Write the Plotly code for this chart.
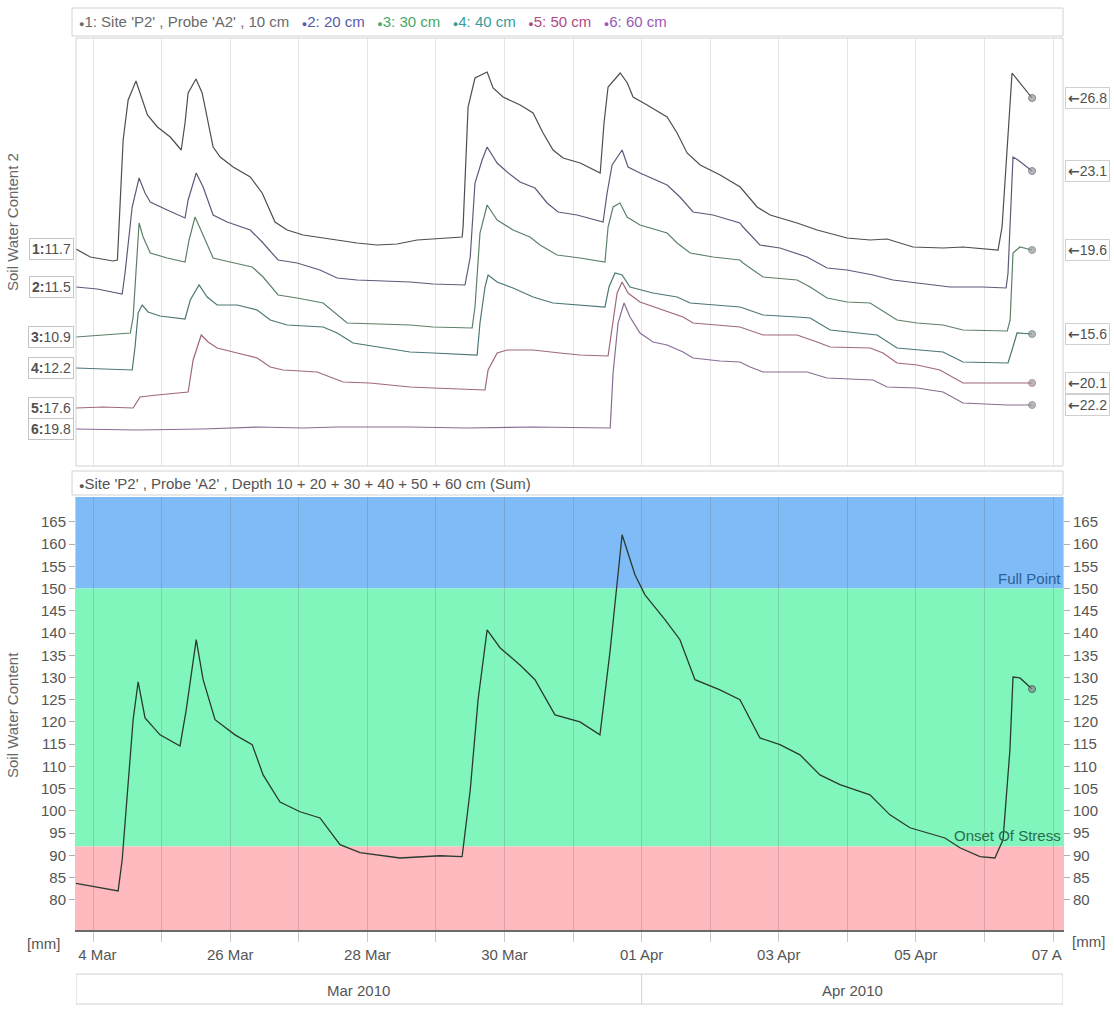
import plotly.graph_objects as go
import pandas as pd

# ---------------- data ----------------
SITE = "P2"
PROBE = "A2"
DEPTHS = [10, 20, 30, 40, 50, 60]
FULL_POINT = 150
ONSET_STRESS = 92

S1_T = ["2010-03-23 18:00", "2010-03-23 23:00", "2010-03-24 07:00", "2010-03-24 08:30", "2010-03-24 10:30",
        "2010-03-24 12:15", "2010-03-24 15:00", "2010-03-24 16:30", "2010-03-24 19:00", "2010-03-24 22:30",
        "2010-03-25 03:00", "2010-03-25 06:50", "2010-03-25 08:10", "2010-03-25 09:15", "2010-03-25 12:00",
        "2010-03-25 14:10", "2010-03-25 18:00", "2010-03-25 20:30", "2010-03-26 01:00", "2010-03-26 07:00",
        "2010-03-26 11:10", "2010-03-26 15:40", "2010-03-26 19:55", "2010-03-27 01:30", "2010-03-27 11:00",
        "2010-03-27 20:25", "2010-03-28 03:25", "2010-03-28 10:25", "2010-03-28 17:25", "2010-03-28 22:00",
        "2010-03-29 09:10", "2010-03-29 09:30", "2010-03-29 11:15", "2010-03-29 13:40", "2010-03-29 17:55",
        "2010-03-29 20:00", "2010-03-29 23:30", "2010-03-30 05:30", "2010-03-30 10:00", "2010-03-30 13:30",
        "2010-03-30 17:00", "2010-03-30 20:30", "2010-03-31 02:30", "2010-03-31 09:30", "2010-03-31 10:50",
        "2010-03-31 12:15", "2010-03-31 16:30", "2010-03-31 19:00", "2010-03-31 21:00", "2010-04-01 01:55",
        "2010-04-01 08:55", "2010-04-01 12:25", "2010-04-01 15:55", "2010-04-01 20:30", "2010-04-02 03:30",
        "2010-04-02 10:30", "2010-04-02 16:25", "2010-04-02 21:00", "2010-04-03 06:25", "2010-04-03 13:25",
        "2010-04-03 23:55", "2010-04-04 08:00", "2010-04-04 13:55", "2010-04-04 23:00", "2010-04-05 09:30",
        "2010-04-05 16:30", "2010-04-06 04:45", "2010-04-06 06:10", "2010-04-06 08:00", "2010-04-06 09:40",
        "2010-04-06 16:40"]
S1_V = [11.7, 10.9, 10.5, 10.6, 22.6, 26.6, 28.5, 27.3, 25.1, 23.9,
        22.9, 21.6, 24.3, 27.3, 28.7, 27.3, 21.9, 20.9, 19.9, 18.9,
        17.3, 14.4, 13.6, 13.1, 12.7, 12.3, 12.1, 12.2, 12.6, 12.7,
        12.9, 13.9, 25.9, 28.8, 29.4, 27.8, 26.9, 26.1, 25.3, 23.3,
        21.6, 20.8, 20.3, 19.3, 24.3, 27.9, 29.3, 28.3, 26.9, 26.1,
        24.9, 23.3, 21.3, 20.1, 19.1, 17.9, 15.9, 15.1, 14.3, 13.6,
        12.8, 12.6, 12.7, 11.9, 11.8, 11.9, 11.6, 13.9, 22.6, 29.3,
        26.8]

S2_T = ["2010-03-23 18:00", "2010-03-24 01:25", "2010-03-24 10:10", "2010-03-24 11:10", "2010-03-24 13:40",
        "2010-03-24 16:05", "2010-03-24 18:10", "2010-03-24 20:00", "2010-03-25 01:55", "2010-03-25 08:10",
        "2010-03-25 09:15", "2010-03-25 12:05", "2010-03-25 14:30", "2010-03-25 18:00", "2010-03-25 22:55",
        "2010-03-26 07:00", "2010-03-26 11:10", "2010-03-26 16:45", "2010-03-26 23:25", "2010-03-27 07:25",
        "2010-03-27 13:25", "2010-03-27 20:25", "2010-03-28 14:55", "2010-03-28 23:00", "2010-03-29 10:10",
        "2010-03-29 12:00", "2010-03-29 13:40", "2010-03-29 16:10", "2010-03-29 17:55", "2010-03-29 21:25",
        "2010-03-30 00:55", "2010-03-30 05:25", "2010-03-30 10:40", "2010-03-30 14:55", "2010-03-30 18:45",
        "2010-03-31 01:25", "2010-03-31 10:30", "2010-03-31 11:55", "2010-03-31 13:40", "2010-03-31 17:10",
        "2010-03-31 19:15", "2010-03-31 23:25", "2010-04-01 08:55", "2010-04-01 13:25", "2010-04-01 18:00",
        "2010-04-02 01:00", "2010-04-02 10:25", "2010-04-02 11:30", "2010-04-02 17:25", "2010-04-03 00:25",
        "2010-04-03 09:55", "2010-04-03 16:55", "2010-04-03 23:55", "2010-04-04 09:00", "2010-04-04 16:00",
        "2010-04-05 00:25", "2010-04-05 12:00", "2010-04-05 23:30", "2010-04-06 07:35", "2010-04-06 08:15",
        "2010-04-06 10:00", "2010-04-06 11:45", "2010-04-06 16:40"]
S2_V = [11.5, 11.3, 10.8, 12.9, 19.5, 22.4, 20.9, 20.0, 19.2, 18.4,
        20.2, 22.9, 21.5, 18.7, 18.0, 17.2, 16.0, 14.2, 13.9, 13.2,
        12.4, 12.2, 12.0, 11.8, 11.7, 14.5, 21.9, 24.2, 25.5, 23.9,
        23.0, 22.0, 21.4, 19.9, 19.0, 18.7, 18.0, 20.9, 23.7, 25.2,
        23.5, 22.9, 21.7, 20.5, 19.0, 18.7, 17.9, 17.5, 15.7, 15.4,
        14.5, 13.4, 13.2, 12.7, 12.2, 11.9, 11.5, 11.5, 11.4, 12.9,
        24.5, 24.2, 23.1]

S3_T = ["2010-03-23 18:00", "2010-03-24 03:30", "2010-03-24 13:00", "2010-03-24 14:00", "2010-03-24 15:25",
        "2010-03-24 16:05", "2010-03-24 17:30", "2010-03-24 20:00", "2010-03-25 01:55", "2010-03-25 08:10",
        "2010-03-25 09:35", "2010-03-25 11:40", "2010-03-25 14:10", "2010-03-25 18:00", "2010-03-25 23:55",
        "2010-03-26 07:40", "2010-03-26 11:30", "2010-03-26 16:45", "2010-03-26 23:25", "2010-03-27 08:30",
        "2010-03-27 16:55", "2010-03-28 00:55", "2010-03-28 14:55", "2010-03-28 23:00", "2010-03-29 12:40",
        "2010-03-29 13:40", "2010-03-29 15:25", "2010-03-29 17:55", "2010-03-29 21:25", "2010-03-30 03:00",
        "2010-03-30 08:55", "2010-03-30 12:25", "2010-03-30 18:25", "2010-03-31 02:25", "2010-03-31 11:10",
        "2010-03-31 12:15", "2010-03-31 14:00", "2010-03-31 16:25", "2010-03-31 18:55", "2010-03-31 23:25",
        "2010-04-01 08:55", "2010-04-01 12:25", "2010-04-01 17:00", "2010-04-02 01:00", "2010-04-02 10:25",
        "2010-04-02 11:30", "2010-04-02 18:30", "2010-04-03 06:25", "2010-04-03 11:00", "2010-04-03 16:55",
        "2010-04-03 23:55", "2010-04-04 08:00", "2010-04-04 17:25", "2010-04-05 00:25", "2010-04-05 09:30",
        "2010-04-05 16:30", "2010-04-06 08:00", "2010-04-06 09:00", "2010-04-06 10:00", "2010-04-06 12:25",
        "2010-04-06 16:40"]
S3_V = [10.9, 11.1, 11.3, 12.9, 18.9, 22.3, 20.9, 19.3, 18.8, 18.4,
        20.6, 22.9, 21.3, 18.8, 18.4, 17.9, 16.9, 15.1, 14.8, 14.3,
        12.3, 12.2, 12.1, 11.9, 11.8, 13.9, 21.3, 24.1, 22.6, 21.6,
        20.9, 20.1, 19.1, 18.8, 18.4, 21.9, 23.9, 24.3, 22.9, 22.1,
        21.3, 20.3, 19.3, 18.9, 18.6, 18.3, 16.9, 16.6, 15.9, 14.8,
        14.4, 14.3, 12.6, 12.3, 12.1, 11.6, 11.5, 12.6, 19.3, 19.9,
        19.6]

S4_T = ["2010-03-23 18:00", "2010-03-24 03:30", "2010-03-24 13:40", "2010-03-24 14:40", "2010-03-24 15:45",
        "2010-03-24 17:10", "2010-03-24 19:15", "2010-03-24 23:25", "2010-03-25 08:10", "2010-03-25 10:00",
        "2010-03-25 13:05", "2010-03-25 15:55", "2010-03-25 19:25", "2010-03-26 02:25", "2010-03-26 09:25",
        "2010-03-26 14:00", "2010-03-26 19:55", "2010-03-27 08:30", "2010-03-27 13:25", "2010-03-27 19:00",
        "2010-03-28 03:25", "2010-03-28 14:55", "2010-03-28 23:00", "2010-03-29 14:25", "2010-03-29 15:25",
        "2010-03-29 17:10", "2010-03-29 18:15", "2010-03-29 21:25", "2010-03-30 03:00", "2010-03-30 10:00",
        "2010-03-30 17:00", "2010-03-31 02:25", "2010-03-31 11:10", "2010-03-31 12:35", "2010-03-31 14:40",
        "2010-03-31 17:10", "2010-03-31 19:55", "2010-04-01 04:00", "2010-04-01 12:25", "2010-04-01 17:00",
        "2010-04-02 02:25", "2010-04-02 10:25", "2010-04-02 11:30", "2010-04-02 18:30", "2010-04-03 06:25",
        "2010-04-03 11:00", "2010-04-03 18:00", "2010-04-04 05:30", "2010-04-04 10:25", "2010-04-04 17:25",
        "2010-04-05 00:25", "2010-04-05 09:30", "2010-04-05 16:30", "2010-04-06 08:15", "2010-04-06 09:40",
        "2010-04-06 11:25", "2010-04-06 16:40"]
S4_V = [12.2, 12.1, 12.0, 14.3, 17.7, 18.5, 17.8, 17.4, 17.1, 19.0,
        20.5, 19.3, 18.5, 18.5, 18.0, 17.0, 16.5, 16.3, 15.7, 14.7,
        14.3, 13.8, 13.7, 13.5, 16.7, 20.3, 21.5, 20.8, 20.2, 19.3,
        18.7, 18.5, 18.3, 20.3, 21.7, 21.5, 20.3, 19.7, 19.3, 18.7,
        18.5, 18.3, 18.2, 17.5, 17.3, 17.2, 16.0, 15.7, 15.5, 14.2,
        14.0, 13.8, 12.8, 12.7, 14.0, 15.7, 15.6]

S5_T = ["2010-03-23 18:00", "2010-03-24 03:30", "2010-03-24 14:00", "2010-03-24 16:25", "2010-03-24 22:25",
        "2010-03-25 09:15", "2010-03-25 11:00", "2010-03-25 13:50", "2010-03-25 16:15", "2010-03-25 19:25",
        "2010-03-26 02:25", "2010-03-26 09:25", "2010-03-26 14:00", "2010-03-26 18:30", "2010-03-27 06:25",
        "2010-03-27 15:30", "2010-03-28 00:55", "2010-03-28 14:55", "2010-03-28 23:00", "2010-03-29 17:10",
        "2010-03-29 18:15", "2010-03-29 21:25", "2010-03-30 00:55", "2010-03-30 10:00", "2010-03-30 19:25",
        "2010-03-31 02:25", "2010-03-31 12:15", "2010-03-31 13:40", "2010-03-31 15:25", "2010-03-31 17:10",
        "2010-03-31 19:15", "2010-03-31 23:25", "2010-04-01 07:30", "2010-04-01 14:30", "2010-04-01 18:00",
        "2010-04-02 02:25", "2010-04-02 10:25", "2010-04-02 18:30", "2010-04-03 06:25", "2010-04-03 13:25",
        "2010-04-03 18:00", "2010-04-04 08:00", "2010-04-04 12:30", "2010-04-04 17:25", "2010-04-05 00:25",
        "2010-04-05 08:25", "2010-04-05 16:30", "2010-04-06 16:40"]
S5_V = [17.6, 17.7, 17.6, 18.7, 18.9, 19.2, 22.4, 24.9, 24.2, 23.6,
        23.1, 22.6, 21.7, 21.4, 21.2, 20.2, 20.1, 19.7, 19.6, 19.4,
        21.4, 23.1, 23.4, 23.4, 23.1, 22.9, 22.8, 25.7, 29.1, 30.2,
        29.1, 28.2, 27.4, 26.7, 26.1, 25.9, 25.7, 24.9, 24.9, 24.2,
        23.7, 23.6, 23.1, 22.1, 21.9, 21.4, 20.1, 20.1]

S6_T = ["2010-03-23 18:00", "2010-03-24 15:25", "2010-03-25 14:30", "2010-03-26 09:25", "2010-03-27 01:30",
        "2010-03-27 13:25", "2010-03-28 14:55", "2010-03-29 10:55", "2010-03-30 10:00", "2010-03-31 13:00",
        "2010-03-31 14:00", "2010-03-31 15:45", "2010-03-31 17:50", "2010-03-31 19:55", "2010-03-31 23:25",
        "2010-04-01 04:00", "2010-04-01 08:55", "2010-04-01 14:30", "2010-04-01 18:00", "2010-04-02 03:25",
        "2010-04-02 10:25", "2010-04-02 14:00", "2010-04-02 18:30", "2010-04-03 09:55", "2010-04-03 16:55",
        "2010-04-04 09:00", "2010-04-04 13:55", "2010-04-05 00:25", "2010-04-05 09:30", "2010-04-05 16:30",
        "2010-04-06 08:00", "2010-04-06 16:40"]
S6_V = [19.8, 19.7, 19.8, 20.0, 19.9, 20.0, 20.0, 19.9, 20.0, 19.9,
        25.4, 30.4, 32.4, 31.0, 29.4, 28.5, 28.2, 27.5, 26.9, 26.6,
        26.5, 26.0, 25.5, 25.5, 24.9, 24.7, 24.0, 23.9, 23.5, 22.4,
        22.2, 22.2]

SUM_T = ["2010-03-23 18:00", "2010-03-24 08:45", "2010-03-24 10:10", "2010-03-24 14:00", "2010-03-24 15:45",
         "2010-03-24 18:10", "2010-03-24 23:25", "2010-03-25 06:25", "2010-03-25 08:35", "2010-03-25 12:05",
         "2010-03-25 14:30", "2010-03-25 18:40", "2010-03-26 01:40", "2010-03-26 07:40", "2010-03-26 11:30",
         "2010-03-26 17:25", "2010-03-27 00:25", "2010-03-27 07:25", "2010-03-27 14:25", "2010-03-27 21:25",
         "2010-03-28 11:25", "2010-03-29 01:25", "2010-03-29 09:10", "2010-03-29 12:00", "2010-03-29 14:45",
         "2010-03-29 17:55", "2010-03-29 22:25", "2010-03-30 05:25", "2010-03-30 10:40", "2010-03-30 17:40",
         "2010-03-31 02:25", "2010-03-31 09:25", "2010-03-31 13:00", "2010-03-31 15:25", "2010-03-31 17:10",
         "2010-03-31 21:40", "2010-04-01 01:10", "2010-04-01 08:10", "2010-04-01 13:25", "2010-04-01 18:40",
         "2010-04-02 03:25", "2010-04-02 10:25", "2010-04-02 17:25", "2010-04-03 00:25", "2010-04-03 07:25",
         "2010-04-03 14:25", "2010-04-03 21:25", "2010-04-04 07:55", "2010-04-04 14:55", "2010-04-04 21:55",
         "2010-04-05 10:10", "2010-04-05 15:25", "2010-04-05 22:25", "2010-04-06 03:40", "2010-04-06 06:30",
         "2010-04-06 08:55", "2010-04-06 10:00", "2010-04-06 12:25", "2010-04-06 16:40"]
SUM_V = [83.7, 82.0, 89.0, 120.5, 129.0, 120.9, 117.1, 114.6, 122.7, 138.5,
         129.5, 120.5, 117.1, 114.9, 108.1, 102.0, 99.8, 98.4, 92.4, 90.6,
         89.4, 89.9, 89.7, 104.7, 125.0, 140.7, 136.7, 132.8, 129.5, 121.6,
         120.0, 117.1, 136.2, 150.8, 162.1, 153.1, 148.6, 143.0, 138.5, 129.5,
         127.2, 125.0, 116.4, 114.9, 112.6, 108.1, 105.9, 103.6, 99.1, 96.2,
         93.9, 91.7, 89.7, 89.4, 93.5, 113.7, 130.1, 129.9, 127.4]

MONTH_LABELS = ["Mar 2010", "Apr 2010"]
MONTH_STARTS = ["2010-03-01", "2010-04-01"]
TICK_DAYS = pd.date_range("2010-03-24", "2010-04-07", freq="D")
TICK_TEXT = ["\u00a0\u00a04 Mar", "", "26 Mar", "", "28 Mar", "", "30 Mar", "", "01 Apr", "",
             "03 Apr", "", "05 Apr", "", "07 A\u00a0\u00a0\u00a0"]
Y_TICKS = list(range(80, 170, 5))

# ---------------- layout helpers ----------------
W, H = 1114, 1009
ML, MR, MT, MB = 76, 51, 38, 79
PW, PH = W - ML - MR, H - MT - MB


def px(x):
    return (x - ML) / PW


def py(y):
    return (H - MB - y) / PH


X_RANGE = ["2010-03-23 18:00", "2010-04-07 03:30"]
TOP_RANGES = [[-10.0, 32.8], [-6.4, 36.4], [-2.0, 40.8], [2.4, 45.2], [11.8, 54.6], [16.1, 58.9]]
BOT_RANGE = [73.2, 170.6]
LINE_COLORS = ["#4e4e4e", "#5b5b7a", "#5d8068", "#4d7676", "#a0687a", "#8a6c92"]
LEGEND_COLORS = ["#6a6a6a", "#5a5aa6", "#46a864", "#389c9c", "#b04a82", "#9a58b4"]
FONT = "Liberation Sans, Arial, sans-serif"
TXT = "#555555"

series = [(S1_T, S1_V), (S2_T, S2_V), (S3_T, S3_V), (S4_T, S4_V), (S5_T, S5_V), (S6_T, S6_V)]

fig = go.Figure()
yaxis_ids = ["y", "y2", "y3", "y4", "y5", "y6"]
for i, ((t, v), col) in enumerate(zip(series, LINE_COLORS)):
    n = len(v)
    fig.add_trace(go.Scatter(
        x=t, y=v, xaxis="x2", yaxis=yaxis_ids[i], mode="lines+markers",
        line=dict(color=col, width=1.2),
        marker=dict(size=[0] * (n - 1) + [7], color="#9a9a9a"),
        hoverinfo="skip", showlegend=False))

fig.add_trace(go.Scatter(
    x=SUM_T, y=SUM_V, xaxis="x", yaxis="y7", mode="lines+markers",
    line=dict(color="#2a3a30", width=1.3),
    marker=dict(size=[0] * (len(SUM_V) - 1) + [7], color="#8a8a8a"),
    hoverinfo="skip", showlegend=False))
fig.add_trace(go.Scatter(x=[SUM_T[0]], y=[SUM_V[0]], xaxis="x", yaxis="y8", mode="markers",
                         marker=dict(size=0, opacity=0), hoverinfo="skip", showlegend=False))

top_dom = [py(466), 1.0]
bot_dom = [0.0, py(497)]

layout = dict(
    width=W, height=H,
    margin=dict(l=ML, r=MR, t=MT, b=MB, pad=0),
    paper_bgcolor="white", plot_bgcolor="white",
    font=dict(family=FONT, size=15, color=TXT),
    showlegend=False,
    xaxis=dict(type="date", range=X_RANGE, domain=[0, 1], anchor="y7",
               tickmode="array", tickvals=list(TICK_DAYS), ticktext=TICK_TEXT,
               ticks="outside", ticklen=10, tickcolor="#c8c8c8",
               showgrid=True, gridcolor="rgba(80,80,80,0.2)", gridwidth=1,
               showline=True, linecolor="#6a6a6a", linewidth=1.5,
               tickfont=dict(size=15, color=TXT), zeroline=False),
    xaxis2=dict(type="date", matches="x", domain=[0, 1], anchor="y",
                tickmode="array", tickvals=list(TICK_DAYS), showticklabels=False,
                ticks="", showgrid=True, gridcolor="#e4e4e4", gridwidth=1,
                showline=False, zeroline=False),
    yaxis7=dict(domain=bot_dom, anchor="x", range=BOT_RANGE, tickmode="array", tickvals=Y_TICKS,
                ticks="outside", ticklen=6, tickcolor="#b0b0b0", showgrid=False, zeroline=False,
                showline=True, linecolor="#cfcfcf", tickfont=dict(size=15, color=TXT)),
    yaxis8=dict(overlaying="y7", side="right", anchor="x", range=BOT_RANGE, tickmode="array",
                tickvals=Y_TICKS, ticks="outside", ticklen=6, tickcolor="#b0b0b0", showgrid=False,
                zeroline=False, showline=True, linecolor="#cfcfcf", tickfont=dict(size=15, color=TXT)),
)
for i, r in enumerate(TOP_RANGES):
    key = "yaxis" if i == 0 else f"yaxis{i + 1}"
    d = dict(range=r, visible=False, showgrid=False, zeroline=False, anchor="x2")
    if i == 0:
        d["domain"] = top_dom
    else:
        d["overlaying"] = "y"
    layout[key] = d
fig.update_layout(**layout)

shapes = []
# bands
shapes.append(dict(type="rect", xref="x domain", yref="y7", x0=0, x1=1, y0=FULL_POINT, y1=BOT_RANGE[1],
                   fillcolor="#7fbcf7", line=dict(width=0), layer="below"))
shapes.append(dict(type="rect", xref="x domain", yref="y7", x0=0, x1=1, y0=ONSET_STRESS, y1=FULL_POINT,
                   fillcolor="#80f6bd", line=dict(width=0), layer="below"))
shapes.append(dict(type="rect", xref="x domain", yref="y7", x0=0, x1=1, y0=BOT_RANGE[0], y1=ONSET_STRESS,
                   fillcolor="#ffbac0", line=dict(width=0), layer="below"))
# frames
shapes.append(dict(type="rect", xref="paper", yref="paper", x0=0, x1=1, y0=top_dom[0], y1=top_dom[1],
                   line=dict(color="#d2d2d2", width=1)))
shapes.append(dict(type="rect", xref="paper", yref="paper", x0=px(72), x1=1, y0=py(36), y1=py(8),
                   line=dict(color="#d2d2d2", width=1)))
shapes.append(dict(type="rect", xref="paper", yref="paper", x0=px(72), x1=1, y0=py(495), y1=py(471),
                   line=dict(color="#d2d2d2", width=1)))
# month row
shapes.append(dict(type="rect", xref="x", yref="paper", x0=X_RANGE[0], x1=X_RANGE[1],
                   y0=py(1004), y1=py(974), line=dict(color="#d2d2d2", width=1)))
x0 = pd.Timestamp(X_RANGE[0])
x1 = pd.Timestamp(X_RANGE[1])
annotations = []
for lab, start in zip(MONTH_LABELS, MONTH_STARTS):
    s = max(pd.Timestamp(start), x0)
    e = min(pd.Timestamp(start) + pd.offsets.MonthBegin(1), x1)
    if s > x0:
        shapes.append(dict(type="line", xref="x", yref="paper", x0=s, x1=s, y0=py(1004), y1=py(974),
                           line=dict(color="#d2d2d2", width=1)))
    mid = s + (e - s) / 2
    annotations.append(dict(x=mid, y=py(990), xref="x", yref="paper", text=lab, showarrow=False,
                            font=dict(size=15, color=TXT), xanchor="center", yanchor="middle"))

# legend (top)
dot = "<span style='font-size:9px'>\u25cf</span>"
gap = "\u00a0\u00a0\u00a0"
names = [f"{i + 1}: Site '{SITE}' , Probe '{PROBE}' , {DEPTHS[0]} cm" if i == 0 else f"{i + 1}: {d} cm"
         for i, d in enumerate(DEPTHS)]
legend_txt = gap.join(
    f"<span style='color:{c}'>{dot}{n}</span>" for n, c in zip(names, LEGEND_COLORS))
annotations.append(dict(x=px(77), y=py(22), xref="paper", yref="paper", text=legend_txt, showarrow=False,
                        xanchor="left", yanchor="middle", font=dict(size=15, color=TXT)))
sum_title = (f"{dot}Site '{SITE}' , Probe '{PROBE}' , Depth " + " + ".join(str(d) for d in DEPTHS)
             + " cm (Sum)")
annotations.append(dict(x=px(77), y=py(483), xref="paper", yref="paper", text=sum_title, showarrow=False,
                        xanchor="left", yanchor="middle", font=dict(size=15, color=TXT)))

# start / end labels for top panel
arrow = "<span style='font-family:DejaVu Sans;font-weight:bold'>\u2190</span>"
for i, (t, v) in enumerate(series):
    annotations.append(dict(x=px(74), y=v[0], xref="paper", yref=yaxis_ids[i],
                            text=f"<b>{i + 1}:</b>{v[0]:.1f}", showarrow=False, xanchor="right",
                            yanchor="middle", font=dict(size=14, color="#505050"),
                            bordercolor="#c4c4c4", borderwidth=1, borderpad=2, bgcolor="white"))
    annotations.append(dict(x=px(1065), y=v[-1], xref="paper", yref=yaxis_ids[i],
                            text=f"{arrow}{v[-1]:.1f}", showarrow=False, xanchor="left",
                            yanchor="middle", font=dict(size=14, color="#505050"),
                            bordercolor="#d0d0d0", borderwidth=1, borderpad=2, bgcolor="white"))

# band labels
annotations.append(dict(x=1, y=FULL_POINT, xref="x domain", yref="y7", text="Full Point", showarrow=False,
                        xanchor="right", yanchor="bottom",
                        font=dict(size=15, color="#2d5f95")))
annotations.append(dict(x=1, y=ONSET_STRESS, xref="x domain", yref="y7", text="Onset Of Stress",
                        showarrow=False, xanchor="right", yanchor="bottom",
                        font=dict(size=15, color="#2b6b4c")))

# axis titles and units
annotations.append(dict(x=px(12), y=py(222), xref="paper", yref="paper", text="Soil Water Content 2",
                        textangle=-90, showarrow=False, xanchor="center", yanchor="middle",
                        font=dict(size=15, color="#666666")))
annotations.append(dict(x=px(12), y=py(715), xref="paper", yref="paper", text="Soil Water Content",
                        textangle=-90, showarrow=False, xanchor="center", yanchor="middle",
                        font=dict(size=15, color="#666666")))
annotations.append(dict(x=px(43), y=py(944), xref="paper", yref="paper", text="[mm]", showarrow=False,
                        xanchor="center", yanchor="middle", font=dict(size=15, color=TXT)))
annotations.append(dict(x=px(1088), y=py(941), xref="paper", yref="paper", text="[mm]", showarrow=False,
                        xanchor="center", yanchor="middle", font=dict(size=15, color=TXT)))

fig.update_layout(shapes=shapes, annotations=annotations)
fig.write_html("out.html")
